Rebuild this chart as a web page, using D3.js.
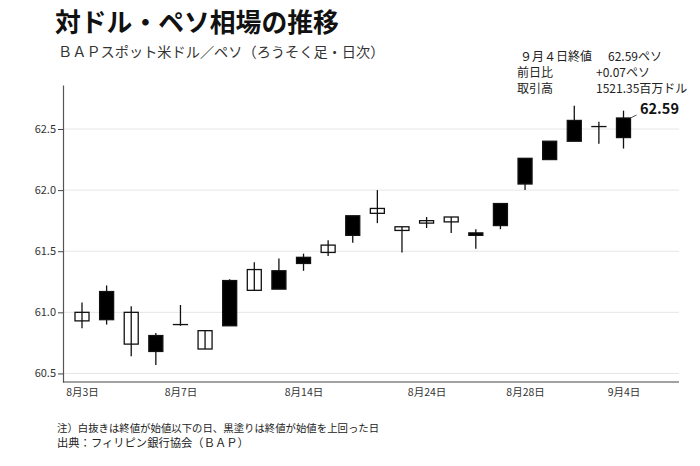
<!DOCTYPE html>
<html><head><meta charset="utf-8">
<script src="https://cdn.jsdelivr.net/npm/d3@7"></script>
<style>
body{margin:0;background:#fff;}
svg{display:block;font-family:"Noto Sans CJK JP","Noto Sans",sans-serif;}
</style></head>
<body><svg id="c" width="700" height="466"></svg>
<script>
const dates = ["8月3日","8月4日","8月5日","8月6日","8月7日","8月10日","8月11日","8月12日","8月13日","8月14日","8月17日","8月18日","8月19日","8月20日","8月24日","8月25日","8月26日","8月27日","8月28日","9月1日","9月2日","9月3日","9月4日"];
const openV  = [61.00,60.94,61.00,60.68,60.90,60.85,60.89,61.35,61.19,61.40,61.55,61.63,61.85,61.70,61.75,61.78,61.63,61.71,62.05,62.25,62.40,62.52,62.43];
const highV  = [61.08,61.22,61.05,60.83,61.06,60.85,61.27,61.41,61.44,61.48,61.59,61.79,62.00,61.70,61.78,61.78,61.68,61.89,62.26,62.40,62.69,62.56,62.65];
const lowV   = [60.87,60.90,60.64,60.57,60.89,60.70,60.89,61.18,61.19,61.34,61.46,61.57,61.73,61.49,61.69,61.65,61.52,61.68,62.00,62.25,62.40,62.38,62.34];
const closeV = [60.93,61.17,60.74,60.81,60.90,60.70,61.26,61.18,61.34,61.45,61.49,61.79,61.81,61.67,61.73,61.74,61.65,61.89,62.26,62.40,62.57,62.52,62.59];
const xTickLabels = ["8月3日","8月7日","8月14日","8月24日","8月28日","9月4日"];
const yTicks = [60.5,61.0,61.5,62.0,62.5];
const lastLabel = "62.59";
const noteLines = [["９月４日終値","62.59ペソ"],["前日比","+0.07ペソ"],["取引高","1521.35百万ドル"]];

const svg = d3.select("#c");
const x = d3.scalePoint().domain(dates).range([82,623.5]);
const y = d3.scaleLinear().domain([60.43,62.86]).range([382,85]);
const bodyW = 14;

// grid
svg.append("g").selectAll("line").data(yTicks).join("line")
  .attr("x1",63).attr("x2",679).attr("y1",d=>y(d)).attr("y2",d=>y(d))
  .attr("stroke","#e6e6e6").attr("stroke-width",1);

// y axis
const ya = svg.append("g").attr("transform","translate(63,0)")
  .call(d3.axisLeft(y).tickValues(yTicks).tickFormat(d3.format(".1f")).tickSize(5).tickSizeOuter(0));
ya.select(".domain").attr("stroke","#555").attr("stroke-width",1.2);
ya.selectAll(".tick line").attr("stroke","#444");
ya.selectAll("text").attr("font-size",11).attr("fill","#333").attr("font-family","'Noto Sans CJK JP'").attr("x",-7);

// x axis
const xa = svg.append("g").attr("transform","translate(0,382)")
  .call(d3.axisBottom(x).tickValues(xTickLabels).tickSize(0).tickSizeOuter(0));
xa.select(".domain").remove();
svg.append("line").attr("x1",63).attr("x2",679).attr("y1",382).attr("y2",382).attr("stroke","#444").attr("stroke-width",1.2);
xa.selectAll("text").attr("font-size",10.5).attr("fill","#333").attr("dy","0.6em").attr("y",8).attr("font-family","'Noto Sans CJK JP'");

// candles
const data = dates.map((d,i)=>({d,o:openV[i],h:highV[i],l:lowV[i],c:closeV[i]}));
const g = svg.append("g");
g.selectAll("line.w").data(data).join("line").attr("class","w")
  .attr("x1",d=>x(d.d)).attr("x2",d=>x(d.d)).attr("y1",d=>y(d.h)).attr("y2",d=>y(d.l))
  .attr("stroke","#111").attr("stroke-width",1.3);
g.selectAll("rect").data(data).join("rect")
  .attr("x",d=>x(d.d)-bodyW/2).attr("width",bodyW)
  .attr("y",d=>y(Math.max(d.o,d.c)))
  .attr("height",d=>Math.max(0.01,Math.abs(y(d.o)-y(d.c))))
  .attr("fill",d=>d.c>d.o?"#000":"none")
  .attr("stroke","#111").attr("stroke-width",1.3);

// last value label
const last = data[data.length-1];
svg.append("line").attr("x1",x(last.d)+bodyW/2).attr("y1",y(last.c))
  .attr("x2",x(last.d)+bodyW/2+6).attr("y2",y(last.c)-3).attr("stroke","#555").attr("stroke-width",1);
svg.append("text").attr("x",640).attr("y",114).attr("font-size",14.5).attr("font-weight","bold")
  .attr("fill","#111").text(lastLabel);

// notes
noteLines.forEach((r,i)=>{
  svg.append("text").attr("x",i===0?520:517).attr("y",60.5+i*16.3).attr("font-size",12).attr("fill","#222").text(r[0]);
  svg.append("text").attr("x",i===0?608:596).attr("y",60.5+i*16.3).attr("font-size",12).attr("fill","#222").text(r[1]);
});

// titles
svg.append("text").attr("x",55).attr("y",32).attr("font-size",25.8).attr("font-weight","bold").attr("fill","#111").text("対ドル・ペソ相場の推移");
svg.append("text").attr("x",58).attr("y",57).attr("font-size",14.2).attr("fill","#333").text("ＢＡＰスポット米ドル／ペソ（ろうそく足・日次）");
svg.append("text").attr("x",57).attr("y",432).attr("font-size",10.4).attr("fill","#222").text("注）白抜きは終値が始値以下の日、黒塗りは終値が始値を上回った日");
svg.append("text").attr("x",57).attr("y",447).attr("font-size",11.3).attr("fill","#222").text("出典：フィリピン銀行協会（ＢＡＰ）");
</script></body></html>
